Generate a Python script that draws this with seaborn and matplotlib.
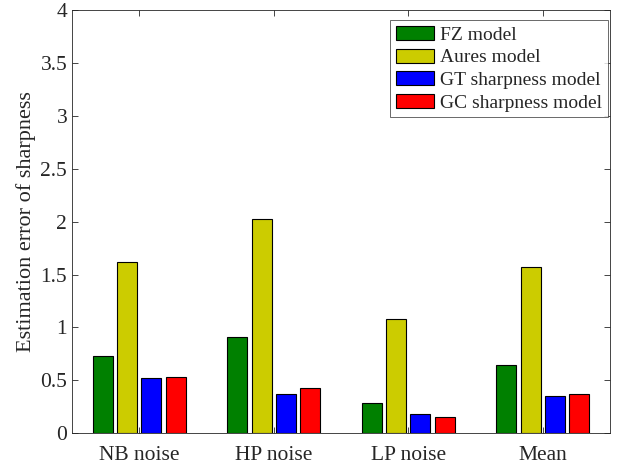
import pandas as pd
import matplotlib
matplotlib.use("Agg")
import matplotlib.pyplot as plt
import seaborn as sns

categories = ["NB noise", "HP noise", "LP noise", "Mean"]
models = ["FZ model", "Aures model", "GT sharpness model", "GC sharpness model"]
fz = [0.73, 0.91, 0.29, 0.645]
aures = [1.62, 2.025, 1.08, 1.575]
gt = [0.52, 0.37, 0.18, 0.357]
gc = [0.53, 0.43, 0.157, 0.372]
colors = ["#008000", "#CCCC00", "#0000FF", "#FF0000"]

rows = []
for m, vals in zip(models, [fz, aures, gt, gc]):
    for c, v in zip(categories, vals):
        rows.append({"cat": c, "model": m, "err": v})
df = pd.DataFrame(rows)

sns.set_style("ticks")
plt.rcParams["font.family"] = ["Liberation Serif", "DejaVu Serif"]

fig = plt.figure(figsize=(6.17, 4.68), dpi=100)
ax = fig.add_axes([0.1167, 0.0741, 0.872, 0.9045])

sns.barplot(data=df, x="cat", y="err", hue="model", palette=colors,
            width=0.726, gap=0.18, edgecolor="black", linewidth=0.8,
            saturation=1, ax=ax)

ax.set_xlim(-0.5, 3.5)
ax.set_ylim(0, 4)
ax.set_yticks([0, 0.5, 1, 1.5, 2, 2.5, 3, 3.5, 4])
ax.set_yticklabels(["0", "0.5", "1", "1.5", "2", "2.5", "3", "3.5", "4"])
ax.set_xlabel("")
ax.set_ylabel("Estimation error of sharpness", fontsize=16, labelpad=3)
ax.tick_params(direction="in", top=True, right=True, labelsize=15.5,
               colors="#262626", length=4, width=0.6)
ax.tick_params(axis="x", pad=9)
for s in ax.spines.values():
    s.set_color("#262626")
    s.set_linewidth(0.6)

leg = ax.legend(loc="upper right", bbox_to_anchor=(0.996, 0.976),
                fontsize=14, frameon=True, fancybox=False,
                edgecolor="#262626", handlelength=1.95, handleheight=0.75,
                handletextpad=0.3, labelspacing=0.24, borderpad=0.3,
                borderaxespad=0)
leg.get_frame().set_linewidth(0.6)

fig.savefig("out.png", dpi=100)
